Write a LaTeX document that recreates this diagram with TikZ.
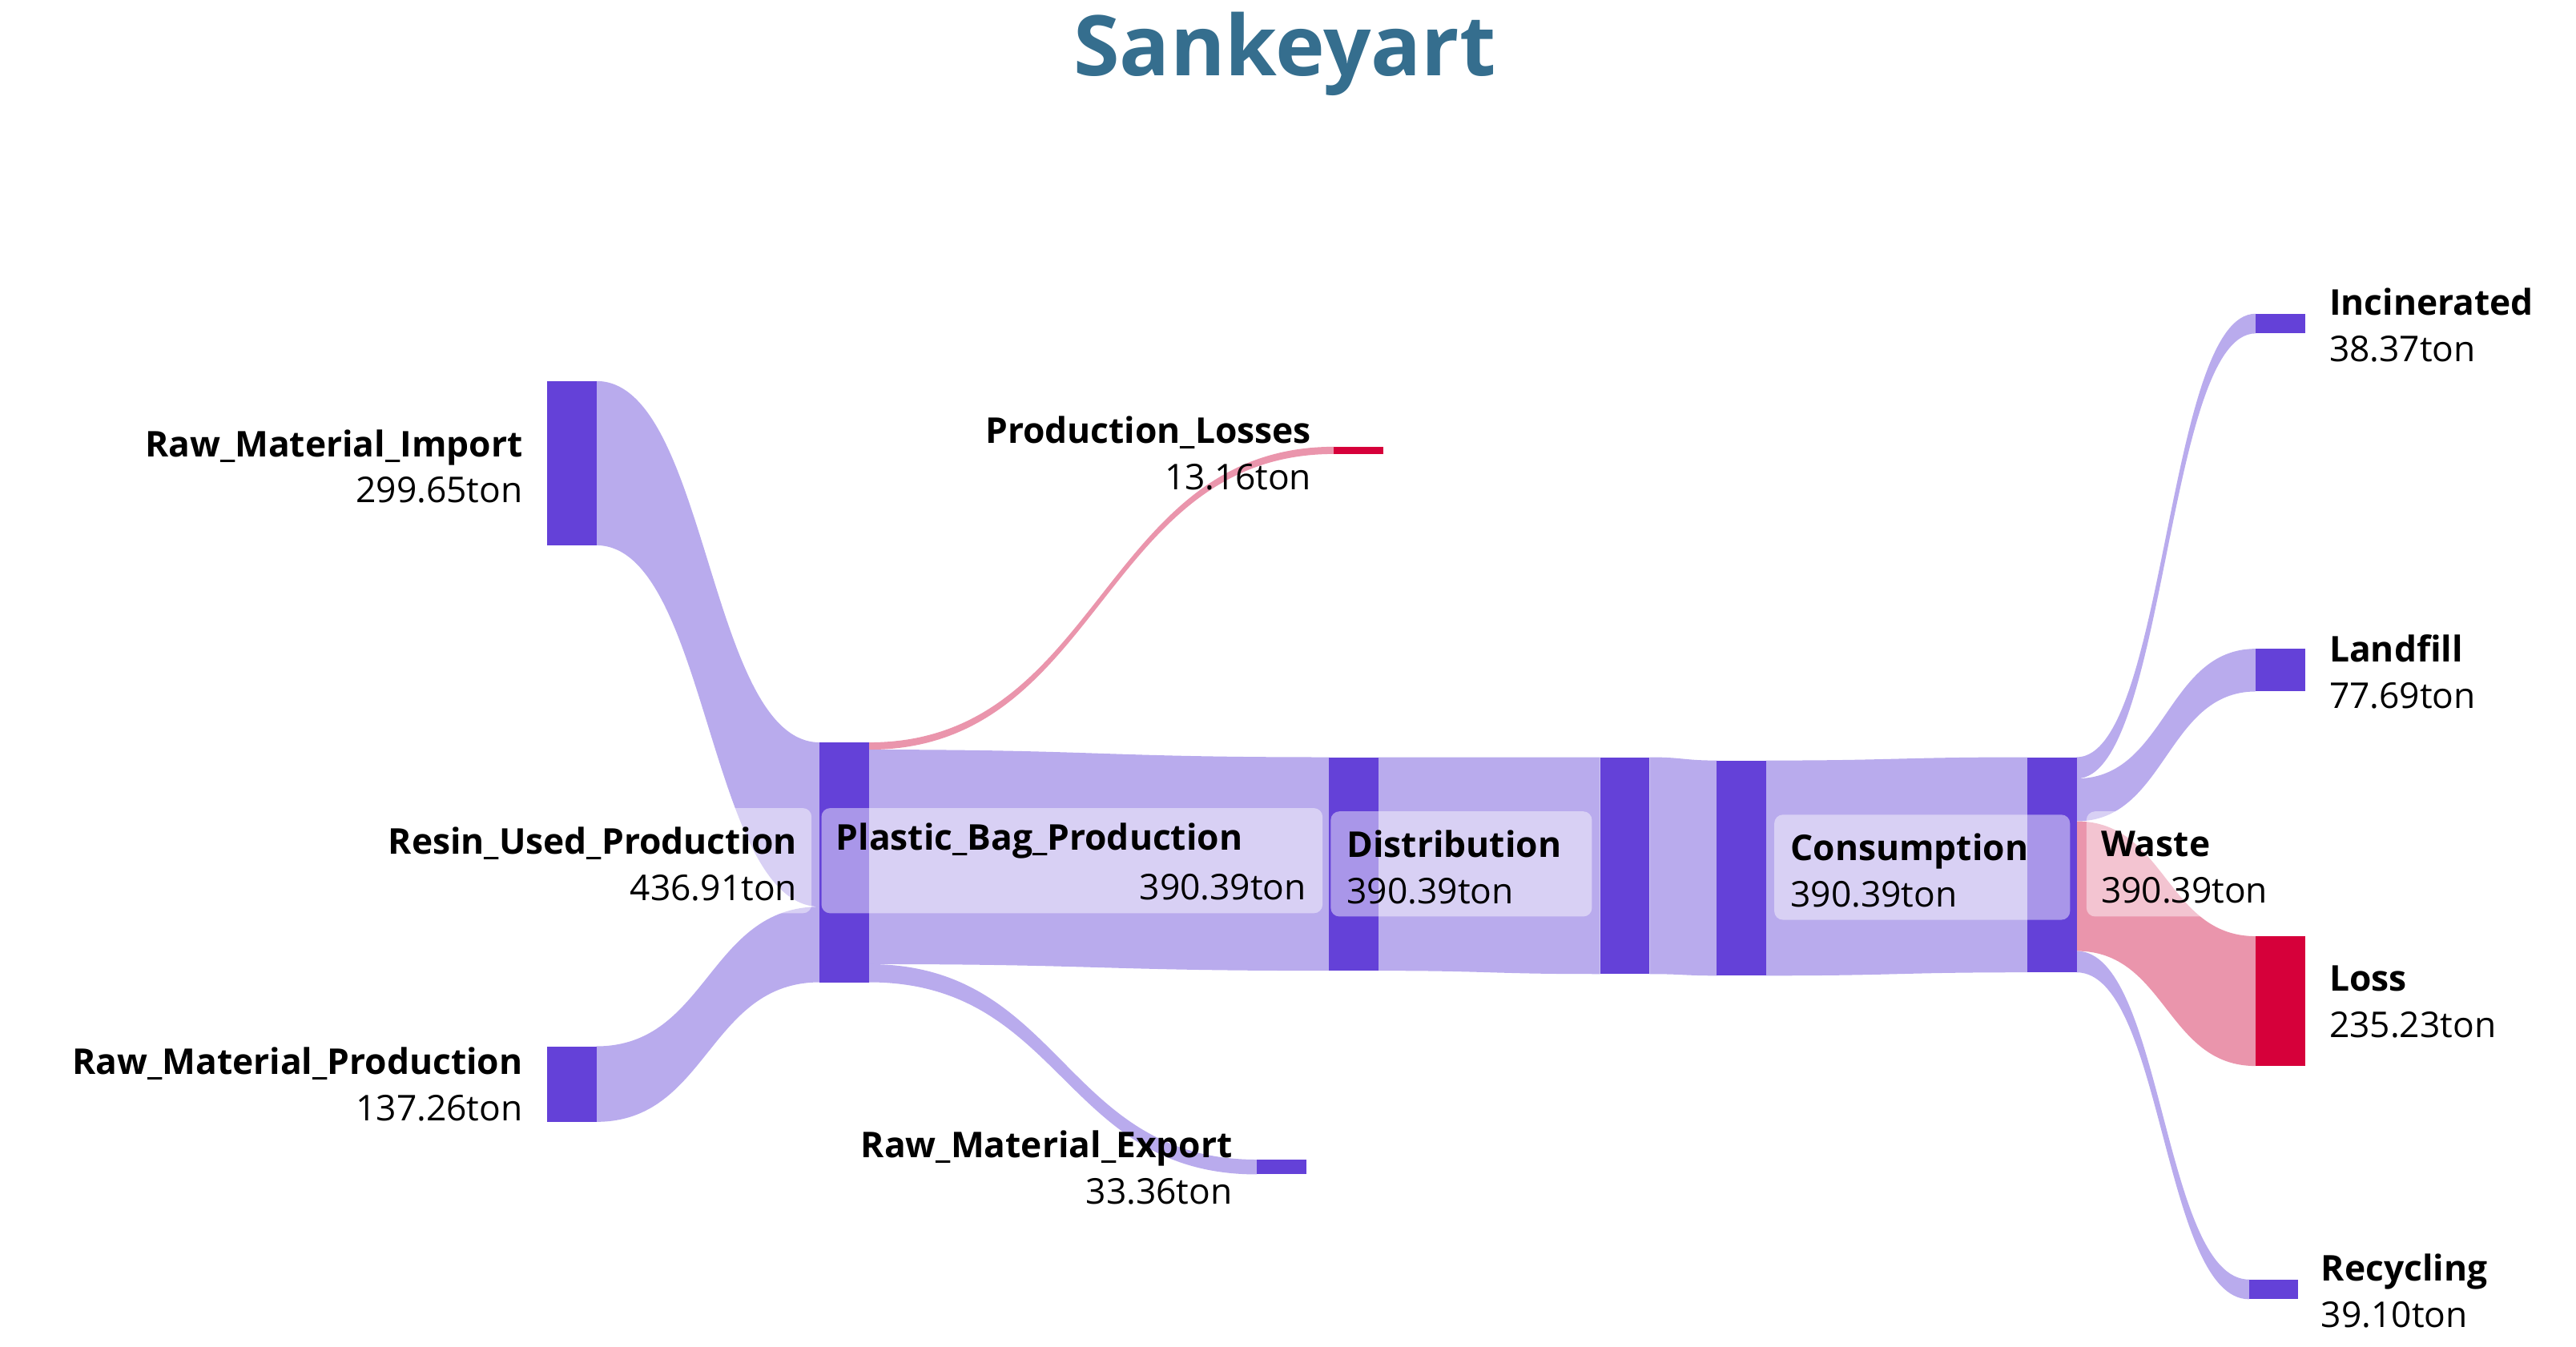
\documentclass[tikz,border=0pt]{standalone}
\usepackage{fontspec}
\setmainfont{Open Sans}
\definecolor{nodec}{HTML}{6441D8}
\definecolor{flowc}{HTML}{B5A6EC}
\definecolor{redc}{HTML}{D6003A}
\definecolor{pinkc}{HTML}{E98FA8}
\definecolor{titlec}{HTML}{356E8E}
\newcommand{\myflow}[7]{%
 \pgfmathsetmacro{\xm}{(#1+#4)/2}%
 \fill[#7] (#1,#2) .. controls (\xm,#2) and (\xm,#5) .. (#4,#5) -- (#4,#6) .. controls (\xm,#6) and (\xm,#3) .. (#1,#3) -- cycle;}
\begin{document}
\begin{tikzpicture}[x=0.02cm,y=-0.02cm,
 bar/.style={fill=nodec},
 rbar/.style={fill=redc},
 lab/.style={font=\fontsize{12.3}{16}\selectfont, inner sep=2pt},
 box/.style={fill=white, fill opacity=0.45, rounded corners=3pt},
 fl/.style={fill=flowc, fill opacity=0.95},
 pf/.style={fill=pinkc, fill opacity=0.95}]
\useasboundingbox (0,0) rectangle (1568,820);
\node[font=\bfseries\fontsize{29}{34}\selectfont, text=titlec] (title) at (782,33) {Sankeyart};
% flows
\myflow{363}{232}{332}{499}{452}{552}{fl}
\myflow{363}{637}{683}{499}{552}{598}{fl}
\myflow{529}{452}{456.4}{812}{272}{276.4}{pf}
\myflow{529}{456.4}{587}{809}{461}{591}{fl}
\myflow{529}{587}{598}{765}{706}{715}{fl}
\myflow{839}{461}{591}{974}{461}{593}{fl}
\myflow{1004}{461}{593}{1045}{463}{594}{fl}
\myflow{1075}{463}{594}{1234}{461}{592}{fl}
\myflow{1264}{461}{474}{1373}{191}{203}{fl}
\myflow{1264}{474}{500}{1373}{395}{421}{fl}
\myflow{1264}{500}{579}{1373}{570}{649}{pf}
\myflow{1264}{579}{592}{1369}{779}{791}{fl}
% bars
\fill[bar] (333,232) rectangle (363,332);
\fill[bar] (333,637) rectangle (363,683);
\fill[bar] (499,452) rectangle (529,598);
\fill[rbar] (812,272) rectangle (842,276.4);
\fill[bar] (765,706) rectangle (795,715);
\fill[bar] (809,461) rectangle (839,591);
\fill[bar] (974,461) rectangle (1004,593);
\fill[bar] (1045,463) rectangle (1075,594);
\fill[bar] (1234,461) rectangle (1264,592);
\fill[bar] (1373,191) rectangle (1403,203);
\fill[bar] (1373,395) rectangle (1403,421);
\fill[rbar] (1373,570) rectangle (1403,649);
\fill[bar] (1369,779) rectangle (1399,791);
% label boxes
\fill[box] (192,492) rectangle (494,556);
\fill[box] (500,492) rectangle (805,556);
\fill[box] (810,494) rectangle (969,558);
\fill[box] (1080,496) rectangle (1260,560);
\fill[box] (1270,494) rectangle (1400,558);
% labels
\node[lab,align=right,anchor=east] (l1) at (322,284) {\textbf{Raw\_Material\_Import}\\299.65ton};
\node[lab,align=right,anchor=east] (l2) at (322,660) {\textbf{Raw\_Material\_Production}\\137.26ton};
\node[lab,align=right,anchor=east] (l3) at (489,526) {\textbf{Resin\_Used\_Production}\\436.91ton};
\node[lab,align=right,anchor=east] (l4) at (802,276) {\textbf{Production\_Losses}\\13.16ton};
\node[lab,align=right,anchor=east] (l5) at (754,711) {\textbf{Raw\_Material\_Export}\\33.36ton};
\node[lab,anchor=west] (l6a) at (505,512) {\textbf{Plastic\_Bag\_Production}};
\node[lab,anchor=east] (l6b) at (799,540) {390.39ton};
\node[lab,align=left,anchor=west] (l7) at (816,528) {\textbf{Distribution}\\390.39ton};
\node[lab,align=left,anchor=west] (l8) at (1086,530) {\textbf{Consumption}\\390.39ton};
\node[lab,align=left,anchor=west] (l9) at (1275,528) {\textbf{Waste}\\390.39ton};
\node[lab,align=left,anchor=west] (l10) at (1414,198) {\textbf{Incinerated}\\38.37ton};
\node[lab,align=left,anchor=west] (l11) at (1414,409) {\textbf{Landfill}\\77.69ton};
\node[lab,align=left,anchor=west] (l12) at (1414,610) {\textbf{Loss}\\235.23ton};
\node[lab,align=left,anchor=west] (l13) at (1409,786) {\textbf{Recycling}\\39.10ton};
\end{tikzpicture}
\end{document}
